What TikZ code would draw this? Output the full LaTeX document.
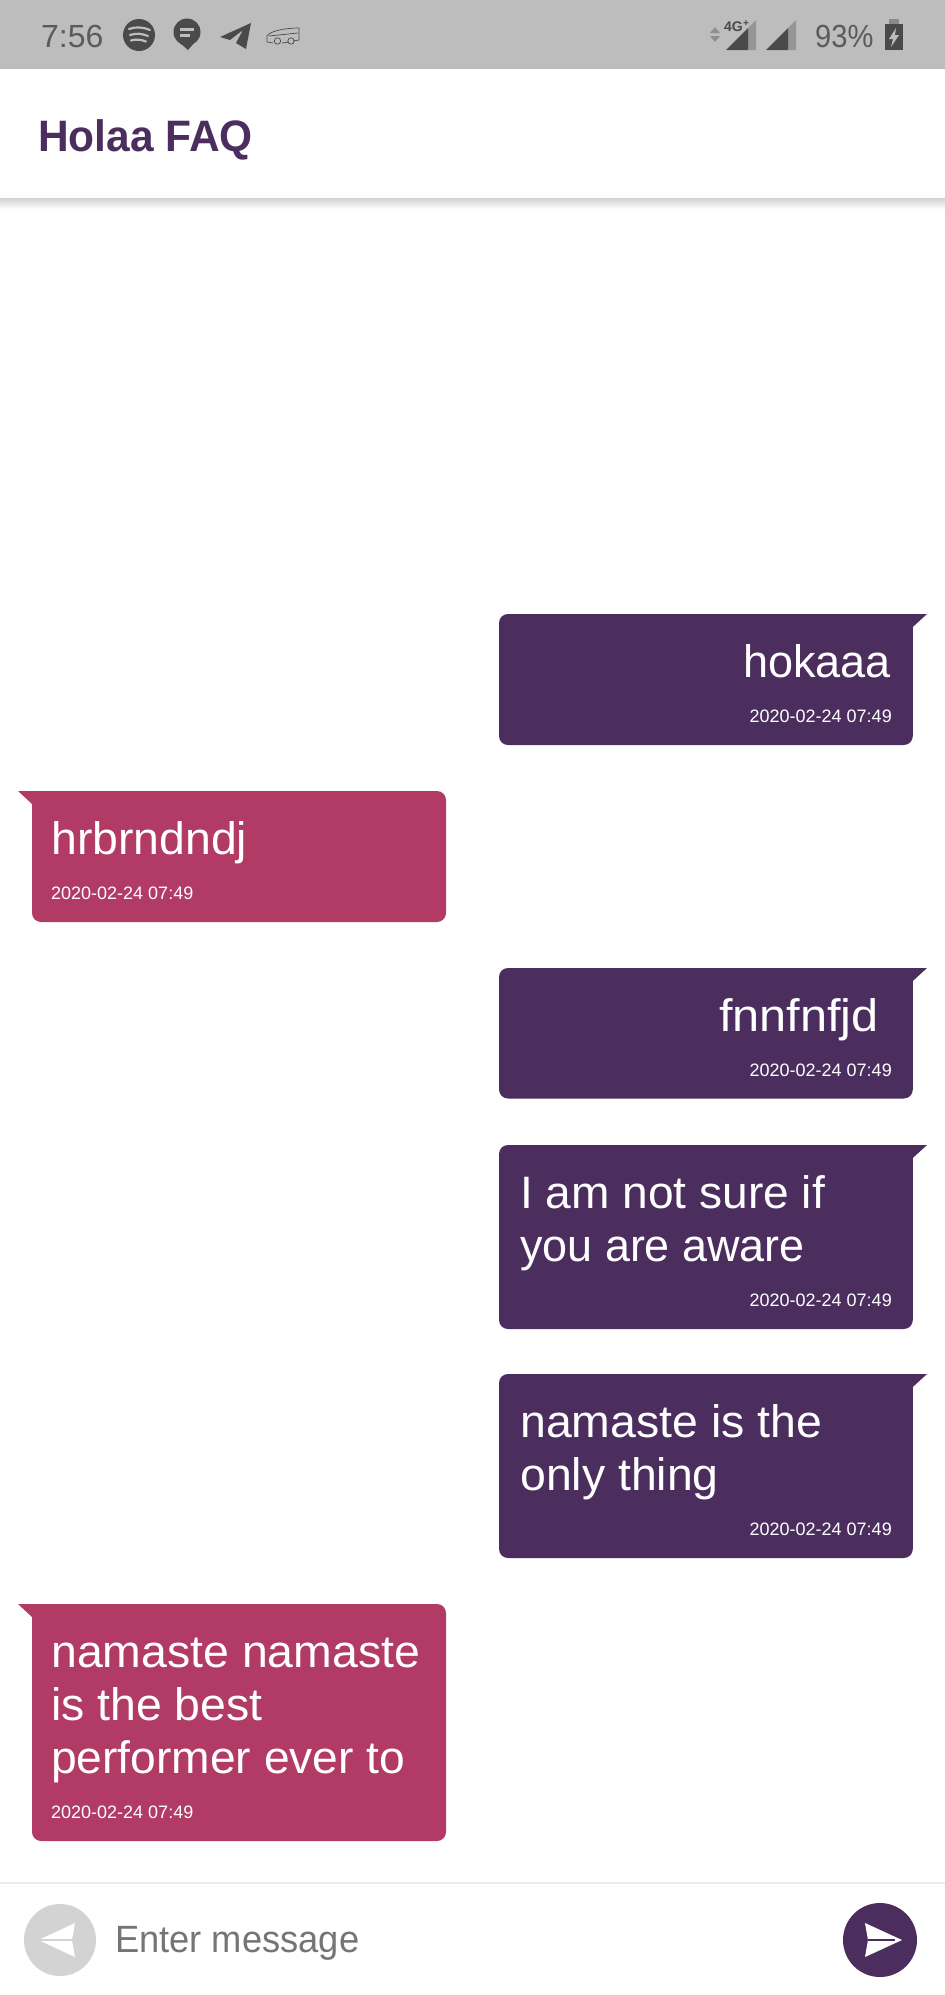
\documentclass[tikz,border=0pt]{standalone}
\usepackage{fontspec}
\setmainfont{Liberation Sans}
\definecolor{plum}{HTML}{4B2E5E}
\definecolor{rose}{HTML}{B23B66}
\definecolor{barbg}{HTML}{BDBDBD}
\definecolor{icon}{HTML}{4A4A4A}
\definecolor{hint}{HTML}{757575}
\definecolor{ghost}{HTML}{D3D3D3}
\newcommand{\bubR}[2]{\fill[plum] (927,#1) [rounded corners=9pt] -- (499,#1) -- (499,#2) -- (912.8,#2) [sharp corners] -- (912.8,{#1+13}) -- cycle;}
\newcommand{\bubL}[2]{\fill[rose] (18,#1) [rounded corners=9pt] -- (446,#1) -- (446,#2) -- (32,#2) [sharp corners] -- (32,{#1+13}) -- cycle;}
\tikzset{
 x=1pt,y=-1pt,
 msg/.style={inner sep=0pt,text=white,font=\fontsize{45.5}{53}\selectfont},
 stamp/.style={inner sep=0pt,text=white,font=\fontsize{18}{22}\selectfont},
 status/.style={inner sep=0pt,text=icon!85!barbg,font=\fontsize{32}{36}\selectfont},
 sx/.style={xscale=#1,transform shape},
}
\begin{document}
\begin{tikzpicture}
\useasboundingbox (0,0) rectangle (945,1995);
\fill[white] (0,0) rectangle (945,1995);
% status bar
\fill[barbg] (0,0) rectangle (945,69);
\node[status,anchor=base west] (clock) at (41,47) {7:56};
% spotify
\fill[icon] (139,35) circle (16);
\begin{scope}[barbg,line width=2.2pt,line cap=round]
\draw (129,29) .. controls (136,26.5) and (143,27) .. (150,30);
\draw (130,35) .. controls (136,33) and (142,33.5) .. (148,36);
\draw (131,40.5) .. controls (136,39) and (141,39.5) .. (146,41.5);
\end{scope}
% message icon
\fill[icon] (187,32) circle (13.5);
\fill[icon] (180,43) -- (194,43) -- (188,50) -- cycle;
\fill[barbg] (180,28) rectangle (194,30.5);
\fill[barbg] (180,34) rectangle (190,36.5);
% telegram
\fill[icon,line join=round] (220,37) -- (251,23) -- (246,49) -- (236,43) -- (243,30) -- (230,40) -- cycle;
% bus
\begin{scope}[icon,line width=.7pt]
\draw (267,42) -- (267,36) .. controls (270,31) and (285,28) .. (299,28) -- (299,40) -- (293,41);
\draw (267,42) -- (273,43) (282,43) -- (289,42);
\draw (269,36) -- (298,33);
\draw (277.5,41) circle (3.2) (291,41) circle (3.2);
\end{scope}
% network
\fill[icon!40!barbg] (715,27) -- (720,33) -- (710,33) -- cycle;
\fill[icon!40!barbg] (710,36) -- (720,36) -- (715,42) -- cycle;
\fill[icon!35!barbg] (748,28) -- (756,20) -- (756,50) -- (748,50) -- cycle;
\fill[icon] (726,50) -- (748,28) -- (748,50) -- cycle;
\node[inner sep=0pt,anchor=base west,text=icon,font=\fontsize{14}{16}\selectfont\bfseries] (net) at (724,31.5) {4G};
\node[inner sep=0pt,anchor=base west,text=icon,font=\fontsize{10}{10}\selectfont\bfseries] (plus) at (743,26) {+};
\fill[icon!35!barbg] (788,28) -- (796,20) -- (796,50) -- (788,50) -- cycle;
\fill[icon] (766,50) -- (788,28) -- (788,50) -- cycle;
\node[status,anchor=base west,sx=.91] (pct) at (815,47) {93\%};
\fill[icon!45!barbg] (889,19) rectangle (899,24);
\fill[icon] (885,24) rectangle (903,50);
\fill[barbg] (896,28) -- (889,39) -- (893,39) -- (891,47) -- (899,35) -- (895,35) -- cycle;
% app bar
\shade[top color=black!18,bottom color=white] (0,198) rectangle (945,209);
\node[inner sep=0pt,anchor=base west,text=plum,font=\fontsize{44}{50}\selectfont\bfseries,sx=.965] (title) at (38,151) {Holaa FAQ};
% bubbles
\bubR{614}{745}
\node[msg,anchor=base east,sx=.99] (m1) at (891,677) {hokaaa};
\node[stamp,anchor=base east] (s1) at (892,722.5) {2020-02-24 07:49};
\bubL{791}{922}
\node[msg,anchor=base west,sx=1.02] (m2) at (51,854) {hrbrndndj};
\node[stamp,anchor=base west] (s2) at (51,899) {2020-02-24 07:49};
\bubR{968}{1098.5}
\node[msg,anchor=base east,sx=1.07] (m3) at (879,1031) {fnnfnfjd};
\node[stamp,anchor=base east] (s3) at (892,1076.5) {2020-02-24 07:49};
\bubR{1145}{1329}
\node[msg,anchor=base west,sx=1.013] (m4a) at (520,1208) {I am not sure if};
\node[msg,anchor=base west,sx=.987] (m4b) at (520,1261) {you are aware};
\node[stamp,anchor=base east] (s4) at (892,1306.5) {2020-02-24 07:49};
\bubR{1374}{1558}
\node[msg,anchor=base west,sx=1.02] (m5a) at (520,1437) {namaste is the};
\node[msg,anchor=base west,sx=1.02] (m5b) at (520,1490) {only thing};
\node[stamp,anchor=base east] (s5) at (892,1535.5) {2020-02-24 07:49};
\bubL{1604}{1841}
\node[msg,anchor=base west,sx=1.02] (m6a) at (51,1667) {namaste namaste};
\node[msg,anchor=base west,sx=1.02] (m6b) at (51,1720) {is the best};
\node[msg,anchor=base west,sx=1.015] (m6c) at (51,1773) {performer ever to};
\node[stamp,anchor=base west] (s6) at (51,1818) {2020-02-24 07:49};
% input bar
\draw[black!8,line width=1.2pt] (0,1883) -- (945,1883);
\fill[ghost] (60,1940) circle (36);
\fill[white] (38.5,1940) -- (75,1923) -- (72,1940) -- (75,1957) -- cycle;
\draw[ghost,line width=1.6pt] (38.5,1940) -- (73,1940);
\node[inner sep=0pt,anchor=base west,text=hint,font=\fontsize{38}{44}\selectfont,sx=.955] (hinttext) at (115,1952) {Enter message};
\fill[plum] (880,1940) circle (37);
\fill[white] (865,1923) -- (902,1940) -- (865,1957) -- (868,1940) -- cycle;
\draw[plum,line width=1.6pt] (868,1940) -- (895,1940);
\end{tikzpicture}
\end{document}
